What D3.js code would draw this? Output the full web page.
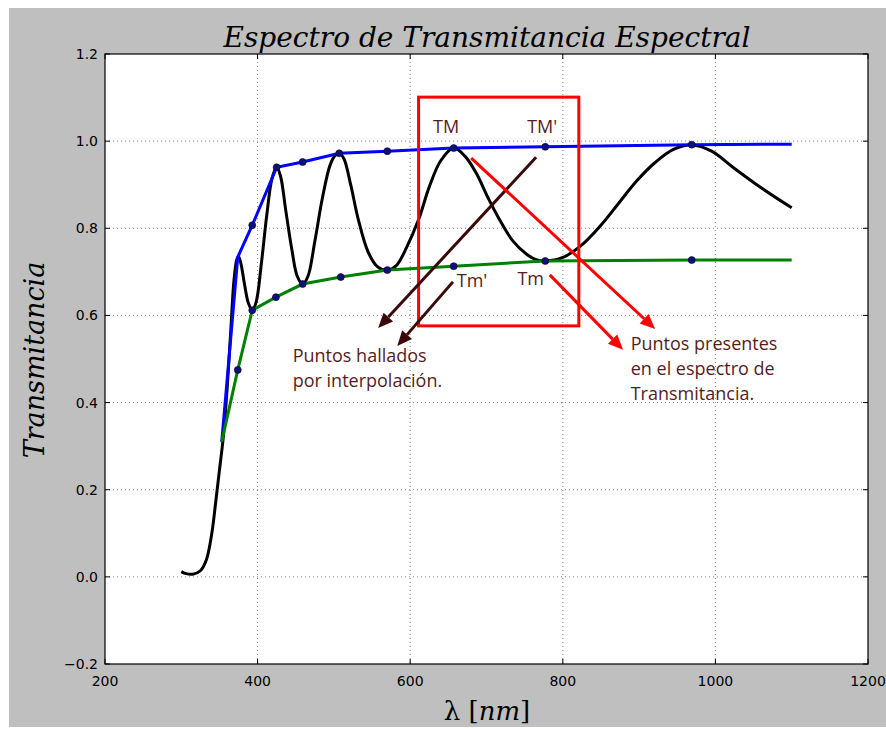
<!DOCTYPE html>
<html>
<head>
<meta charset="utf-8">
<script src="https://cdn.jsdelivr.net/npm/d3@7"></script>
<style>
	body { margin: 0; background: #fff; }
	svg text { fill: #000; }
	.tick-label { font-family: "DejaVu Sans", sans-serif; font-size: 14px; }
	.math { font-family: "DejaVu Serif", serif; font-style: italic; }
	.note { font-family: "Open Sans", sans-serif; font-size: 18px; fill: #561c1c; }
</style>
</head>
<body>
<svg id="chart"></svg>
<script>
// black curve: measured spectrum (nm, T)
const spectrum = [
	[300, 0.012], [305, 0.008], [315, 0.006], [325, 0.014], [333, 0.04], [340, 0.10],
	[345, 0.17], [350, 0.245], [355, 0.32], [360, 0.43], [365, 0.57], [369, 0.68],
	[373, 0.73], [375, 0.735], [378, 0.72], [383, 0.67], [388, 0.628], [393, 0.612],
	[398, 0.63], [405, 0.72], [412, 0.83], [419, 0.915], [425, 0.94], [430, 0.92],
	[437, 0.84], [445, 0.75], [452, 0.69], [459, 0.672], [466, 0.69], [475, 0.77],
	[485, 0.87], [495, 0.945], [502, 0.968], [507, 0.972], [513, 0.96], [522, 0.90],
	[532, 0.82], [545, 0.745], [557, 0.712], [570, 0.704], [582, 0.715], [595, 0.755],
	[611, 0.82], [625, 0.895], [640, 0.955], [657, 0.984], [672, 0.965], [687, 0.925],
	[702, 0.87], [717, 0.82], [735, 0.77], [753, 0.74], [765, 0.728], [777, 0.725],
	[800, 0.733], [825, 0.762], [849, 0.805], [873, 0.857], [897, 0.909], [921, 0.951],
	[945, 0.981], [969, 0.991], [995, 0.977], [1023, 0.94], [1060, 0.893], [1100, 0.847]
];

// upper envelope TM
const envTM = [
	[353, 0.31], [374, 0.734], [393, 0.807], [425, 0.94], [459, 0.952], [507, 0.972],
	[570, 0.977], [657, 0.984], [777, 0.987], [969, 0.992], [1100, 0.993]
];
const dotsTM = [393, 425, 459, 507, 570, 657, 777, 969];

// lower envelope Tm
const envTm = [
	[353, 0.31], [374, 0.475], [393, 0.612], [424, 0.642], [459, 0.672], [509, 0.688],
	[570, 0.704], [657, 0.713], [777, 0.725], [969, 0.727], [1100, 0.727]
];
const dotsTm = [374, 393, 424, 459, 509, 570, 657, 777, 969];

const xTicks = [200, 400, 600, 800, 1000, 1200];
const yTicks = [-0.2, 0.0, 0.2, 0.4, 0.6, 0.8, 1.0, 1.2];

// annotations (data coords)
const box = {x0: 611, x1: 821, y0: 1.101, y1: 0.576};
const darkArrows = [
	[[765, 0.963], [558, 0.571]],
	[[656, 0.677], [583, 0.530]]
];
const redArrows = [
	[[680, 0.961], [921, 0.569]],
	[[783, 0.693], [879, 0.521]]
];
const marks = [
	{t: "TM", x: 647, y: 1.019, a: "middle"},
	{t: "TM'", x: 773, y: 1.019, a: "middle"},
	{t: "Tm'", x: 661, y: 0.665, a: "start"},
	{t: "Tm", x: 758, y: 0.670, a: "middle"}
];
const notes = [
	{lines: ["Puntos hallados", "por interpolación."], x: 446, y: 0.493},
	{lines: ["Puntos presentes", "en el espectro de", "Transmitancia."], x: 889, y: 0.521}
];

const W = 886, H = 729;
const margin = {left: 105, right: 18, top: 54, bottom: 65};

const svg = d3.select("#chart").attr("width", W).attr("height", H);

svg.append("rect")
	.attr("x", 9).attr("y", 8)
	.attr("width", W - 9).attr("height", 719)
	.attr("fill", "#bfbfbf");

const x = d3.scaleLinear().domain([200, 1200]).range([margin.left, W - margin.right]);
const y = d3.scaleLinear().domain([-0.2, 1.2]).range([H - margin.bottom, margin.top]);

svg.append("rect")
	.attr("x", x(200)).attr("y", y(1.2))
	.attr("width", x(1200) - x(200)).attr("height", y(-0.2) - y(1.2))
	.attr("fill", "#fff");

// grid
const grid = svg.append("g").attr("stroke", "#666").attr("stroke-width", 0.8).attr("stroke-dasharray", "1,3");
grid.selectAll("line.gx").data(xTicks.slice(1, -1)).enter().append("line")
	.attr("x1", d => x(d)).attr("x2", d => x(d))
	.attr("y1", y(1.2)).attr("y2", y(-0.2));
grid.selectAll("line.gy").data(yTicks.slice(1, -1)).enter().append("line")
	.attr("y1", d => y(d)).attr("y2", d => y(d))
	.attr("x1", x(200)).attr("x2", x(1200));

// curves
const line = d3.line().x(d => x(d[0])).y(d => y(d[1]));
const smooth = d3.line().x(d => x(d[0])).y(d => y(d[1])).curve(d3.curveCatmullRom.alpha(0.5));

svg.append("path").datum(spectrum)
	.attr("d", smooth).attr("fill", "none")
	.attr("stroke", "#000").attr("stroke-width", 3).attr("stroke-linejoin", "round");

svg.append("path").datum(envTM)
	.attr("d", line).attr("fill", "none")
	.attr("stroke", "#0000ff").attr("stroke-width", 3);

svg.append("path").datum(envTm)
	.attr("d", line).attr("fill", "none")
	.attr("stroke", "#008000").attr("stroke-width", 3);

function lookup(env, xv) {
	return env.find(d => d[0] === xv)[1];
}
svg.selectAll("circle.tm").data(dotsTM).enter().append("circle")
	.attr("cx", d => x(d)).attr("cy", d => y(lookup(envTM, d)))
	.attr("r", 3.5).attr("fill", "#10107a").attr("stroke", "#000033").attr("stroke-width", 0.6);
svg.selectAll("circle.tmm").data(dotsTm).enter().append("circle")
	.attr("cx", d => x(d)).attr("cy", d => y(lookup(envTm, d)))
	.attr("r", 3.5).attr("fill", "#10107a").attr("stroke", "#000033").attr("stroke-width", 0.6);

// red box
svg.append("rect")
	.attr("x", x(box.x0)).attr("y", y(box.y0))
	.attr("width", x(box.x1) - x(box.x0)).attr("height", y(box.y1) - y(box.y0))
	.attr("fill", "none").attr("stroke", "#ff0000").attr("stroke-width", 3);

function arrow(a, color) {
	const x1 = x(a[0][0]), y1 = y(a[0][1]), x2 = x(a[1][0]), y2 = y(a[1][1]);
	const ang = Math.atan2(y2 - y1, x2 - x1);
	const hl = 15, hw = 6.5;
	const bx = x2 - hl * Math.cos(ang), by = y2 - hl * Math.sin(ang);
	svg.append("line")
		.attr("x1", x1).attr("y1", y1).attr("x2", bx).attr("y2", by)
		.attr("stroke", color).attr("stroke-width", 3);
	const pts = [
		[x2, y2],
		[bx + hw * Math.sin(ang), by - hw * Math.cos(ang)],
		[bx - hw * Math.sin(ang), by + hw * Math.cos(ang)]
	];
	svg.append("polygon").attr("points", pts.map(p => p.join(",")).join(" ")).attr("fill", color);
}
darkArrows.forEach(a => arrow(a, "#3a0a0a"));
redArrows.forEach(a => arrow(a, "#ff0000"));

svg.selectAll("text.mark").data(marks).enter().append("text")
	.attr("class", "note")
	.attr("x", d => x(d.x)).attr("y", d => y(d.y))
	.attr("text-anchor", d => d.a)
	.text(d => d.t);

notes.forEach(n => {
	n.lines.forEach((t, i) => {
		svg.append("text").attr("class", "note")
			.attr("x", x(n.x)).attr("y", y(n.y) + i * 25)
			.text(t);
	});
});

// frame and ticks
svg.append("rect")
	.attr("x", x(200)).attr("y", y(1.2))
	.attr("width", x(1200) - x(200)).attr("height", y(-0.2) - y(1.2))
	.attr("fill", "none").attr("stroke", "#000").attr("stroke-width", 1.2);

const tk = svg.append("g").attr("stroke", "#000").attr("stroke-width", 1);
xTicks.forEach(t => {
	tk.append("line").attr("x1", x(t)).attr("x2", x(t)).attr("y1", y(-0.2)).attr("y2", y(-0.2) - 5);
	tk.append("line").attr("x1", x(t)).attr("x2", x(t)).attr("y1", y(1.2)).attr("y2", y(1.2) + 5);
});
yTicks.forEach(t => {
	tk.append("line").attr("y1", y(t)).attr("y2", y(t)).attr("x1", x(200)).attr("x2", x(200) + 5);
	tk.append("line").attr("y1", y(t)).attr("y2", y(t)).attr("x1", x(1200)).attr("x2", x(1200) - 5);
});

svg.selectAll("text.xt").data(xTicks).enter().append("text")
	.attr("class", "tick-label")
	.attr("x", d => x(d)).attr("y", y(-0.2) + 22)
	.attr("text-anchor", "middle")
	.text(d => d);

svg.selectAll("text.yt").data(yTicks).enter().append("text")
	.attr("class", "tick-label")
	.attr("x", x(200) - 7).attr("y", d => y(d) + 5)
	.attr("text-anchor", "end")
	.text(d => d < 0 ? "\u2212" + Math.abs(d).toFixed(1) : d.toFixed(1));

// titles
svg.append("text").attr("class", "math")
	.attr("x", 487).attr("y", 47)
	.attr("text-anchor", "middle")
	.style("font-size", "28px")
	.text("Espectro de Transmitancia Espectral");

svg.append("text").attr("class", "math")
	.attr("transform", "translate(44,360) rotate(-90)")
	.attr("text-anchor", "middle")
	.style("font-size", "27px")
	.text("Transmitancia");

const xl = svg.append("text").attr("class", "math")
	.attr("x", 487).attr("y", 720)
	.attr("text-anchor", "middle")
	.style("font-size", "26px");
xl.append("tspan").style("font-style", "normal").text("λ [");
xl.append("tspan").text("nm");
xl.append("tspan").style("font-style", "normal").text("]");
</script>
</body>
</html>
